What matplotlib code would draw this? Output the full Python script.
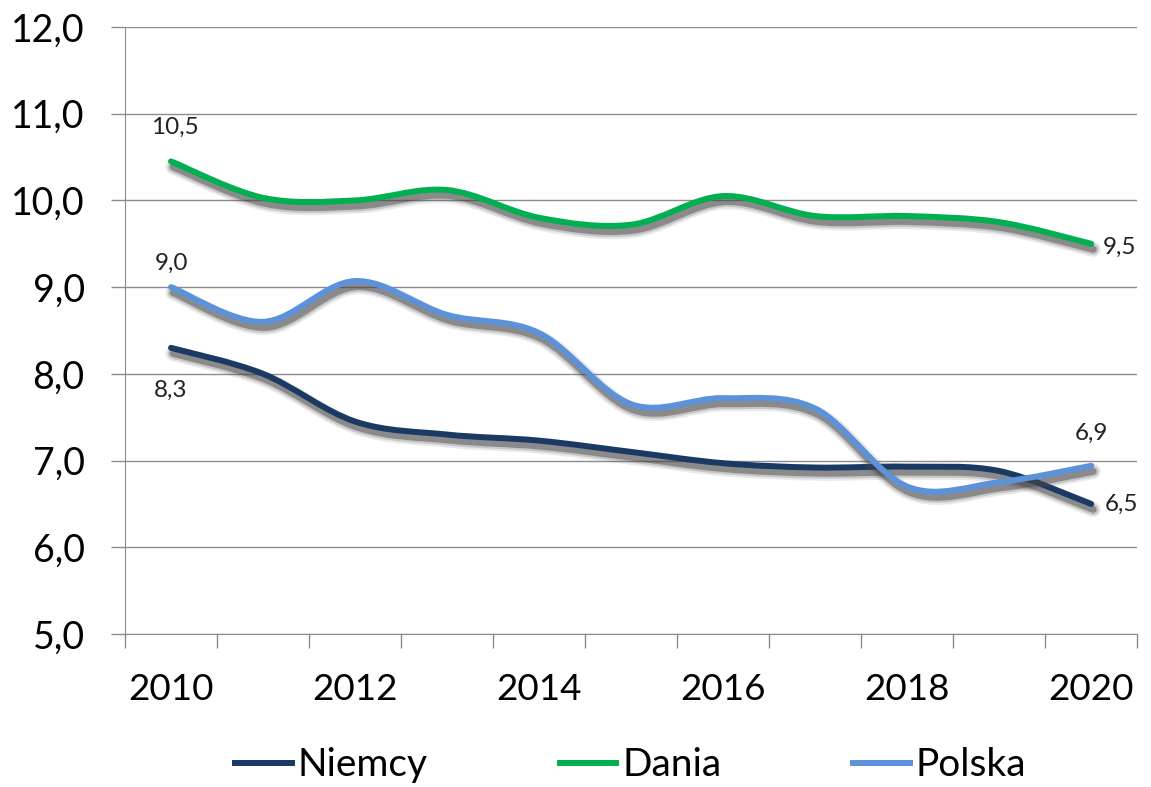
import matplotlib
matplotlib.use("Agg")
import matplotlib.pyplot as plt
import matplotlib.patheffects as pe
import numpy as np
from matplotlib.path import Path
from matplotlib.patches import PathPatch
from matplotlib.lines import Line2D

plt.rcParams['font.family'] = ['Lato', 'DejaVu Sans']

years = [2010, 2011, 2012, 2013, 2014, 2015, 2016, 2017, 2018, 2019, 2020]
niemcy = [8.3, 8.0, 7.45, 7.3, 7.23, 7.1, 6.97, 6.92, 6.93, 6.88, 6.5]
dania = [10.45, 10.03, 10.0, 10.12, 9.8, 9.72, 10.05, 9.82, 9.82, 9.75, 9.5]
polska = [9.0, 8.6, 9.07, 8.68, 8.47, 7.65, 7.72, 7.6, 6.7, 6.75, 6.94]

series = [("Niemcy", niemcy, "#1B3A63"),
          ("Dania", dania, "#00B050"),
          ("Polska", polska, "#5B92DA")]

# data labels: (series name, index, text, x offset px, y offset px, ha)
labels = [("Dania", 0, "10,5", 4, 34, "center"),
          ("Polska", 0, "9,0", 0, 24, "center"),
          ("Niemcy", 0, "8,3", 0, -42, "center"),
          ("Dania", 10, "9,5", 12, -4, "left"),
          ("Polska", 10, "6,9", 0, 32, "center"),
          ("Niemcy", 10, "6,5", 14, 0, "left")]


def smooth_path(x, y):
    # excel-like smoothed line: catmull-rom segments as cubic beziers
    pts = np.column_stack([x, y]).astype(float)
    n = len(pts)
    verts = [pts[0]]
    codes = [Path.MOVETO]
    for i in range(n - 1):
        p0 = pts[max(i - 1, 0)]
        p1 = pts[i]
        p2 = pts[i + 1]
        p3 = pts[min(i + 2, n - 1)]
        c1 = p1 + (p2 - p0) / 6.0
        c2 = p2 - (p3 - p1) / 6.0
        verts += [c1, c2, p2]
        codes += [Path.CURVE4] * 3
    return Path(verts, codes)


fig = plt.figure(figsize=(11.51, 7.87), dpi=100)
ax = fig.add_axes([0.1086, 0.1944, 0.8794, 0.7713])

xpos = np.arange(len(years))
shadow = [pe.SimpleLineShadow(offset=(1.5, -4), shadow_color='#505050', alpha=0.12, linewidth=11),
          pe.SimpleLineShadow(offset=(1.5, -4), shadow_color='#505050', alpha=0.22, linewidth=8),
          pe.SimpleLineShadow(offset=(1.5, -4), shadow_color='#404040', alpha=0.45, linewidth=5),
          pe.Normal()]

handles = []
for name, vals, col in series:
    patch = PathPatch(smooth_path(xpos, vals), fill=False, edgecolor=col, lw=4.3,
                      capstyle='round', joinstyle='round', zorder=3)
    patch.set_path_effects(shadow)
    ax.add_patch(patch)
    handles.append(Line2D([], [], color=col, lw=4.3, label=name))

lookup = {name: vals for name, vals, col in series}
for name, i, txt, dx, dy, ha in labels:
    ax.annotate(txt, (xpos[i], lookup[name][i]), xytext=(dx * 0.72, dy * 0.72),
                textcoords='offset points', ha=ha, va='center', fontsize=17.5, color='#222222')

ax.set_xlim(-0.5, len(years) - 0.5)
ax.set_ylim(5, 12)
ax.set_yticks(np.arange(5, 12.1, 1))
ax.set_yticklabels([f"{v:.1f}".replace('.', ',') for v in np.arange(5, 12.1, 1)])
ax.yaxis.grid(True, color='#8c8c8c', lw=1)
ax.set_axisbelow(True)

ax.set_xticks(np.arange(-0.5, len(years), 1))
ax.set_xticklabels([])
ax.set_xticks(xpos[::2], minor=True)
ax.set_xticklabels([str(y) for y in years[::2]], minor=True)
ax.tick_params(axis='x', which='major', length=10, color='#8c8c8c', width=1)
ax.tick_params(axis='x', which='minor', length=0, pad=28, labelsize=26.5)
ax.tick_params(axis='y', length=10, color='#8c8c8c', width=1, labelsize=27, pad=19)

for s in ['top', 'right']:
    ax.spines[s].set_visible(False)
for s in ['left', 'bottom']:
    ax.spines[s].set_color('#8c8c8c')

fig.legend(handles=handles, loc='lower center', bbox_to_anchor=(0.548, -0.04), ncol=3,
           frameon=False, fontsize=28, handlelength=1.45, handletextpad=0.15,
           columnspacing=3.4)

fig.savefig("out.png", dpi=100)
